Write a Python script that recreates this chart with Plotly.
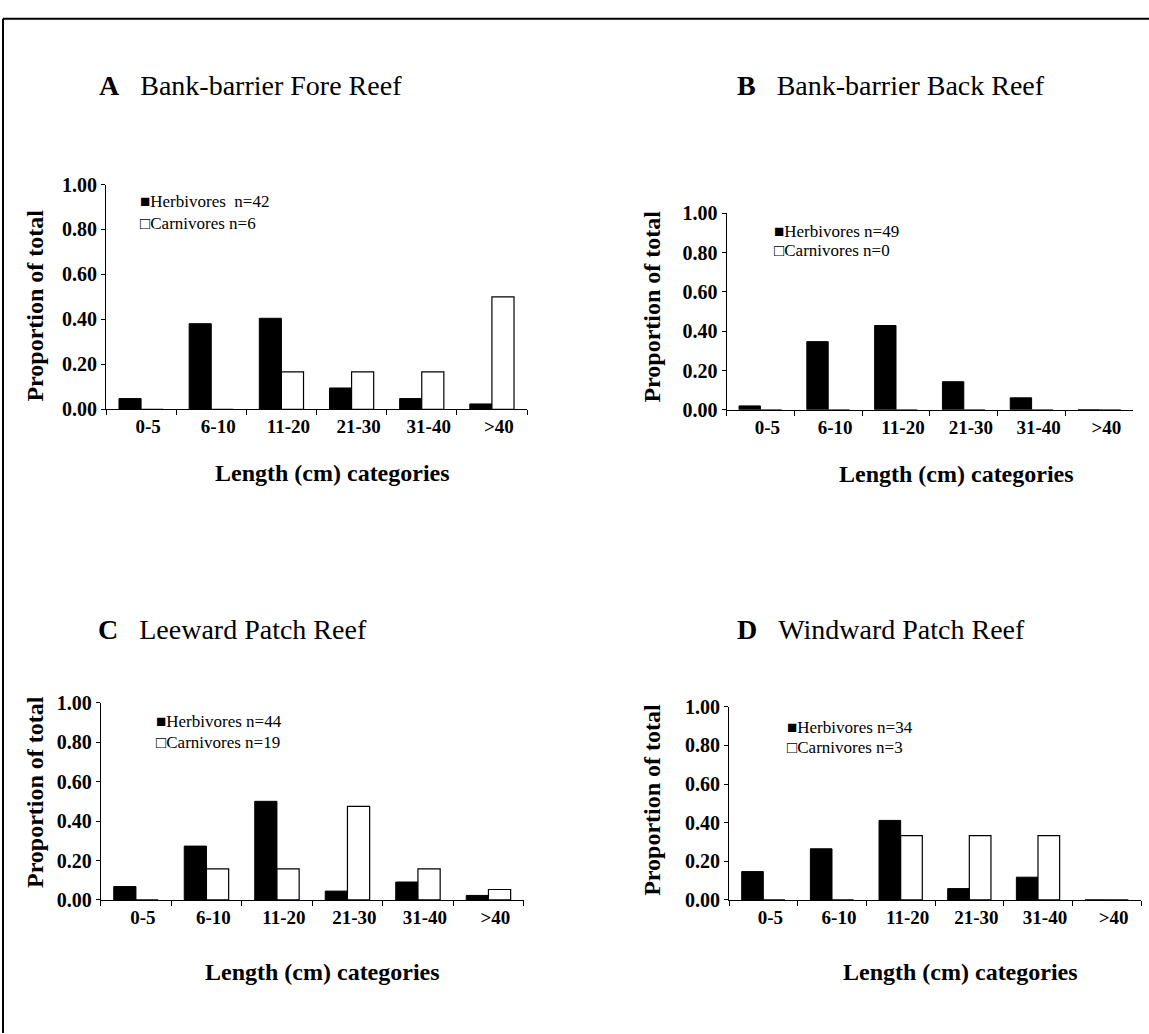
import plotly.graph_objects as go

# ---------------- data ----------------
categories = ["0-5", "6-10", "11-20", "21-30", "31-40", ">40"]

a_herbivores = [0.048, 0.381, 0.405, 0.095, 0.048, 0.024]
a_carnivores = [0.0, 0.0, 0.167, 0.167, 0.167, 0.500]

b_herbivores = [0.020, 0.347, 0.429, 0.143, 0.061, 0.0]
b_carnivores = [0.0, 0.0, 0.0, 0.0, 0.0, 0.0]

c_herbivores = [0.068, 0.273, 0.500, 0.045, 0.091, 0.023]
c_carnivores = [0.0, 0.158, 0.158, 0.474, 0.158, 0.053]

d_herbivores = [0.147, 0.265, 0.412, 0.059, 0.118, 0.0]
d_carnivores = [0.0, 0.0, 0.333, 0.333, 0.333, 0.0]

panel_letters = ["A", "B", "C", "D"]
panel_names = ["Bank-barrier Fore Reef", "Bank-barrier Back Reef",
               "Leeward Patch Reef", "Windward Patch Reef"]
herb_labels = ["Herbivores\u00a0\u00a0n=42", "Herbivores n=49",
               "Herbivores n=44", "Herbivores n=34"]
carn_labels = ["Carnivores n=6", "Carnivores n=0",
               "Carnivores n=19", "Carnivores n=3"]
y_ticks = [0.0, 0.2, 0.4, 0.6, 0.8, 1.0]

herb_series = [a_herbivores, b_herbivores, c_herbivores, d_herbivores]
carn_series = [a_carnivores, b_carnivores, c_carnivores, d_carnivores]

# ---------------- layout (pixels) ----------------
W, H = 1149, 1034
FONT = "Liberation Serif"

# plot boxes: x_left, x_right, y_bottom, y_top (pixels from top-left)
boxes = [
    (106, 527, 407, 177.3),
    (726.5, 1133.3, 407.5, 206.7),
    (100.7, 523.7, 908.3, 706.7),
    (729, 1141, 908.3, 711),
]
title_pos = [(97, 76), (735, 76), (96, 632), (735, 632)]
legend_pos = [(138, 195, 217), (772, 225, 245), (154, 726, 747), (785, 732, 753)]
ytitle_pos = [(35, 301), (652, 302), (35, 798), (652, 806)]
xtitle_pos = [(332, 472), (956, 473), (322, 982), (960, 982)]


def px(x):
    return x / W


def py(y):
    return 1 - y / H


fig = go.Figure()
annotations = []
layout_axes = {}

for i in range(4):
    xa = "x" if i == 0 else f"x{i+1}"
    ya = "y" if i == 0 else f"y{i+1}"
    fig.add_trace(go.Bar(
        x=categories, y=herb_series[i], xaxis=xa, yaxis=ya,
        marker=dict(color="black", line=dict(color="black", width=1)),
        showlegend=False, hoverinfo="x+y",
    ))
    fig.add_trace(go.Bar(
        x=categories, y=carn_series[i], xaxis=xa, yaxis=ya,
        marker=dict(color="white", line=dict(color="black", width=1.2)),
        showlegend=False, hoverinfo="x+y",
    ))

    x0, x1, yb, yt = boxes[i]
    xkey = "xaxis" if i == 0 else f"xaxis{i+1}"
    ykey = "yaxis" if i == 0 else f"yaxis{i+1}"
    layout_axes[xkey] = dict(
        domain=[px(x0), px(x1)], anchor=ya, type="category",
        range=[-0.5, 5.5], showline=True, linecolor="black", linewidth=1,
        ticks="outside", tickson="boundaries", ticklen=5, tickcolor="black",
        tickwidth=1, showgrid=False, zeroline=False, fixedrange=True,
        ticklabelshift=7,
        tickfont=dict(family=FONT, size=19, color="black", weight="bold"),
    )
    layout_axes[ykey] = dict(
        domain=[py(yb), py(yt)], anchor=xa, range=[0, 1],
        tickvals=y_ticks, tickformat=".2f", showline=True, linecolor="black",
        linewidth=1, ticks="outside", ticklen=4, tickcolor="black",
        showgrid=False, zeroline=False, fixedrange=True,
        tickfont=dict(family=FONT, size=20, color="black", weight="bold"),
    )

    tx, ty = title_pos[i]
    annotations.append(dict(
        x=px(tx), y=py(ty), xref="paper", yref="paper", xanchor="left",
        yanchor="middle", showarrow=False,
        text=f"<b>{panel_letters[i]}</b>\u00a0\u00a0\u00a0{panel_names[i]}",
        font=dict(family=FONT, size=28, color="black"),
    ))
    lx, l1, l2 = legend_pos[i]
    annotations.append(dict(
        x=px(lx), y=py(l1), xref="paper", yref="paper", xanchor="left",
        yanchor="middle", showarrow=False, text="\u25a0" + herb_labels[i],
        font=dict(family=FONT, size=17, color="black"),
    ))
    annotations.append(dict(
        x=px(lx), y=py(l2), xref="paper", yref="paper", xanchor="left",
        yanchor="middle", showarrow=False, text="\u25a1" + carn_labels[i],
        font=dict(family=FONT, size=17, color="black"),
    ))
    yx, yy = ytitle_pos[i]
    annotations.append(dict(
        x=px(yx), y=py(yy), xref="paper", yref="paper", xanchor="center",
        yanchor="middle", showarrow=False, textangle=-90,
        text="<b>Proportion of total</b>",
        font=dict(family=FONT, size=24, color="black"),
    ))
    xx, xy = xtitle_pos[i]
    annotations.append(dict(
        x=px(xx), y=py(xy), xref="paper", yref="paper", xanchor="center",
        yanchor="middle", showarrow=False,
        text="<b>Length (cm) categories</b>",
        font=dict(family=FONT, size=24, color="black"),
    ))

shapes = [
    dict(type="line", xref="paper", yref="paper", x0=px(3), x1=1.01,
         y0=py(8), y1=py(8), line=dict(color="black", width=2)),
    dict(type="line", xref="paper", yref="paper", x0=px(3), x1=px(3),
         y0=py(8), y1=-0.01, line=dict(color="black", width=2)),
]

fig.update_layout(
    width=W, height=H, margin=dict(l=0, r=0, t=0, b=0),
    paper_bgcolor="white", plot_bgcolor="white",
    barmode="group", bargap=0.37, bargroupgap=0,
    font=dict(family=FONT, color="black"),
    annotations=annotations, shapes=shapes,
    **layout_axes,
)

fig.write_html(
    "out.html",
    config={"displayModeBar": False},
    post_script="document.body.style.margin='0';document.body.style.overflow='hidden';",
)
